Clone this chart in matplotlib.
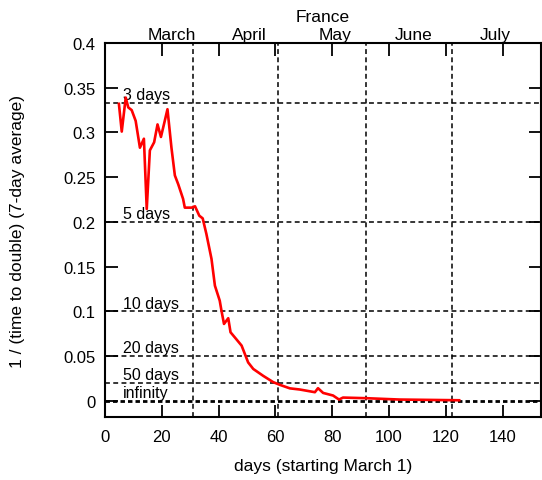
import matplotlib.pyplot as plt

plt.rcParams['font.family'] = ['Liberation Sans', 'DejaVu Sans']
plt.rcParams['font.size'] = 12

# 1 / doubling time, 7-day average, France
days = [4.9, 5.9, 7.3, 8.2, 9.4, 10.8, 12.3, 13.7, 14.7, 15.8, 17.3, 18.5, 19.7,
        20.9, 22.0, 23.4, 24.6, 25.8, 27.5, 28.1, 30.5, 31.7, 33.2, 34.4, 35.7,
        37.5, 38.7, 40.4, 41.0, 41.9, 43.4, 44.2, 45.7, 48.1, 50.4, 52.2, 55.7,
        59.2, 61.5, 65.1, 68.6, 73.9, 75.0, 76.8, 80.3, 82.4, 83.8, 92.0, 103.7,
        124.7]
rate = [0.332, 0.301, 0.339, 0.328, 0.325, 0.313, 0.283, 0.293, 0.2145, 0.280,
        0.289, 0.309, 0.295, 0.311, 0.326, 0.283, 0.252, 0.242, 0.2257, 0.216,
        0.216, 0.2175, 0.207, 0.204, 0.1866, 0.1587, 0.1288, 0.112, 0.101,
        0.086, 0.0924, 0.0767, 0.071, 0.0618, 0.043, 0.0357, 0.028, 0.021,
        0.018, 0.014, 0.0127, 0.0097, 0.0142, 0.0089, 0.006, 0.0015, 0.0037,
        0.003, 0.0015, 0.0007]

# reference doubling times
ref_labels = ['3 days', '5 days', '10 days', '20 days', '50 days', 'infinity']
ref_values = [1 / 3, 1 / 5, 1 / 10, 1 / 20, 1 / 50, 0.0]

# month boundaries and month names on the top axis
month_starts = [31, 61, 92, 122]
month_names = ['March', 'April', 'May', 'June', 'July']
month_pos = [23.6, 51, 81, 108.5, 137.3]

fig = plt.figure(figsize=(5.42, 4.81), dpi=100)
ax = fig.add_axes([0.1937, 0.131, 0.8044, 0.7775])

for lab, val in zip(ref_labels, ref_values):
    if val == 0:
        ax.axhline(val, color='black', ls=(0, (1.6, 1.1)), lw=2.0, zorder=1)
    else:
        ax.axhline(val, color='black', ls=(0, (3.2, 2.2)), lw=1.1, zorder=1)
    ax.text(6.3, val + 0.001, lab, ha='left', va='bottom', fontsize=11.5)

for d in month_starts:
    ax.axvline(d, color='black', ls=(0, (3.2, 2.2)), lw=1.1, zorder=1)

ax.plot(days, rate, color='red', lw=1.9, zorder=3)

ax.set_xlim(0, 153.5)
ax.set_ylim(-0.018, 0.4)
ax.set_xticks(range(0, 141, 20))
ax.set_yticks([0, 0.05, 0.1, 0.15, 0.2, 0.25, 0.3, 0.35, 0.4])
ax.set_yticklabels(['0', '0.05', '0.1', '0.15', '0.2', '0.25', '0.3', '0.35', '0.4'])
ax.tick_params(direction='in', top=True, right=True, length=9, width=1.3)
ax.tick_params(axis='x', pad=9)
ax.tick_params(axis='y', pad=7)
for s in ax.spines.values():
    s.set_linewidth(1.5)

ax.set_xlabel('days (starting March 1)', labelpad=10, fontsize=12.5)
ax.set_ylabel('1 / (time to double) (7-day average)', labelpad=27, fontsize=12.5)

for name, pos in zip(month_names, month_pos):
    ax.text(pos, 0.4015, name, ha='center', va='bottom', fontsize=12.5)
ax.text(76.75, 0.421, 'France', ha='center', va='bottom', fontsize=12.5)

fig.savefig('out.png', dpi=100)
